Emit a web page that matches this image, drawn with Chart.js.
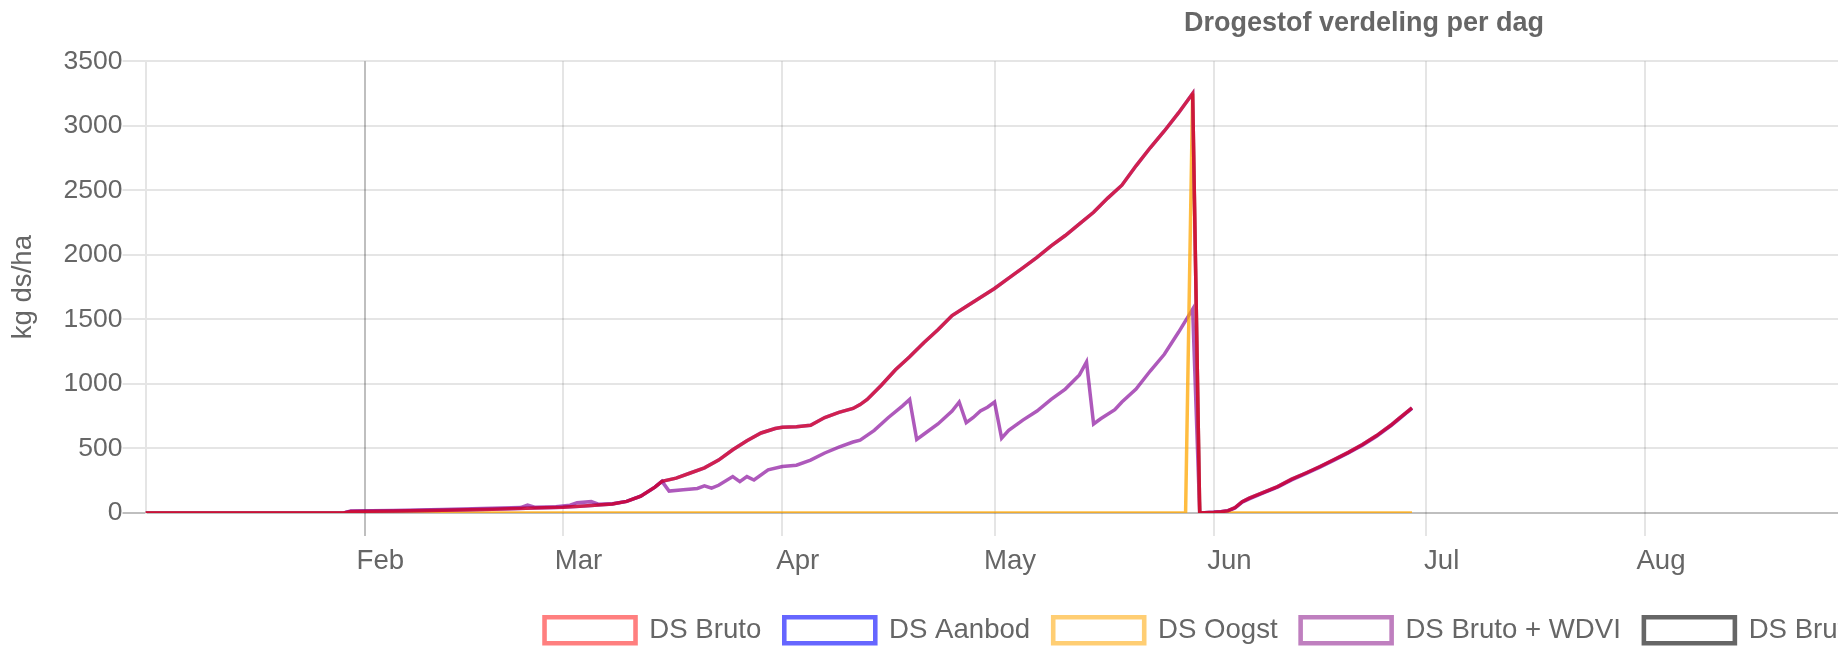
<!DOCTYPE html>
<html><head><meta charset="utf-8">
<script src="https://cdn.jsdelivr.net/npm/chart.js@4.4.1/dist/chart.umd.min.js"></script>
<style>
html,body{margin:0;padding:0;overflow:hidden;background:#fff;width:1838px;height:647px}
#wrap{position:absolute;left:0;top:0;width:2728px;height:654px}
</style></head><body><div id="wrap"><canvas id="c"></canvas></div>
<script>
// x = day of year (0 = 1 Jan), y = kg ds/ha
const monthNames = ['Feb','Mar','Apr','May','Jun','Jul','Aug','Sep','Oct','Nov','Dec'];
const monthStartDays = [31,59,90,120,151,181,212,243,273,304,334];
const seriesLabels = ['DS Bruto','DS Aanbod','DS Oogst','DS Bruto + WDVI','DS Bruto + WDVI gemiddelde jaren'];

const bruto = [[0,0],[28,0],[29,12],[35,16],[42,22],[49,30],[55,38],[59,45],[62,55],[64,62],[66,70],[68,90],[70,130],[72,200],[73,245],[75,270],[77,310],[79,350],[81,410],[83,490],[85,560],[87,620],[89,655],[90,665],[92,668],[94,680],[96,740],[98,780],[100,810],[101,840],[102,880],[104,990],[106,1110],[108,1210],[110,1320],[112,1420],[114,1530],[116,1600],[118,1670],[120,1740],[122,1820],[124,1900],[126,1980],[128,2070],[130,2150],[132,2240],[134,2330],[136,2440],[138,2540],[140,2690],[142,2830],[144,2960],[146,3100],[148,3250],[149,0],[151,5],[152,10],[153,18],[154,42],[155,88],[156,115],[158,160],[160,205],[162,262],[164,310],[166,360],[168,415],[170,470],[172,530],[174,600],[175,640],[176,680],[177,725],[178,770],[179,815]];
const aanbod = [[0,0],[28,0],[29,12],[35,16],[42,22],[49,30],[55,38],[59,45],[62,55],[64,62],[66,70],[68,90],[70,130],[72,200],[73,245],[75,270],[77,310],[79,350],[81,410],[83,490],[85,560],[87,620],[89,655],[90,665],[92,668],[94,680],[96,740],[98,780],[100,810],[101,840],[102,880],[104,990],[106,1110],[108,1210],[110,1320],[112,1420],[114,1530],[116,1600],[118,1670],[120,1740],[122,1820],[124,1900],[126,1980],[128,2070],[130,2150],[132,2240],[134,2330],[136,2440],[138,2540],[140,2690],[142,2830],[144,2960],[146,3100],[148,3250],[149,0],[151,5],[152,10],[153,18],[154,42],[155,88],[156,115],[158,160],[160,205],[162,262],[164,310],[166,360],[168,415],[170,470],[172,530],[174,600],[175,640],[176,680],[177,725],[178,770],[179,815]];
const oogst = [[0,0],[147,0],[148,3250],[149,0],[179,0]];
const brutoWdvi = [[0,0],[28,0],[29,15],[35,20],[42,28],[49,36],[53,42],[54,62],[55,45],[58,48],[60,60],[61,80],[63,88],[64,68],[66,72],[68,90],[70,130],[72,200],[73,245],[74,170],[76,180],[78,190],[79,210],[80,192],[81,215],[83,282],[84,243],[85,282],[86,256],[88,334],[90,360],[92,370],[94,410],[96,465],[98,510],[100,550],[101,565],[103,640],[105,740],[107,830],[108,880],[109,570],[110,610],[112,690],[114,790],[115,860],[116,700],[117,740],[118,790],[119,820],[120,860],[121,580],[122,640],[124,720],[126,790],[128,880],[130,960],[132,1070],[133,1170],[134,690],[135,730],[137,800],[138,860],[140,960],[142,1100],[144,1230],[146,1400],[148,1580],[149,0],[151,5],[152,10],[153,16],[154,38],[155,84],[156,110],[158,155],[160,200],[162,257],[164,305],[166,355],[168,410],[170,465],[172,525],[174,595],[175,635],[176,675],[177,720],[178,765],[179,810]];
const brutoWdviGem = [];

const FONT = "'Liberation Sans', Arial, sans-serif";
const toXY = arr => arr.map(p => ({x: p[0], y: p[1]}));
const lineColors = ['rgba(235,0,20,0.75)','rgba(0,0,255,0.5)','rgba(255,165,0,0.75)','rgba(130,0,150,0.65)','rgba(0,0,0,0.55)'];
const boxColors = ['rgba(255,0,0,0.5)','rgba(0,0,255,0.6)','rgba(255,165,0,0.55)','rgba(128,0,128,0.5)','rgba(0,0,0,0.6)'];
const seriesData = [bruto, aanbod, oogst, brutoWdvi, brutoWdviGem];

Chart.defaults.font.family = FONT;
Chart.defaults.color = '#666';

new Chart(document.getElementById('c'), {
  type: 'line',
  data: {
    datasets: seriesData.map((d, i) => ({
      label: seriesLabels[i],
      data: toXY(d),
      borderColor: lineColors[i],
      backgroundColor: 'rgba(255,255,255,0)',
      borderWidth: 3.5,
      pointRadius: 0,
      tension: 0,
      fill: false
    }))
  },
  options: {
    responsive: true,
    maintainAspectRatio: false,
    animation: false,
    devicePixelRatio: 1,
    layout: {padding: 0},
    plugins: {
      title: {display: true, text: 'Drogestof verdeling per dag', color: '#666',
        font: {size: 27, weight: 'bold', family: FONT}, padding: {top: 7, bottom: 21.9}},
      legend: {position: 'bottom',
        labels: {boxWidth: 91, boxHeight: 26, padding: 23, color: '#666', font: {size: 27.6, family: FONT},
          generateLabels: chart => chart.data.datasets.map((ds, i) => ({
            text: ds.label, fillStyle: 'rgba(255,255,255,0)', strokeStyle: boxColors[i],
            lineWidth: 4.6, hidden: false, datasetIndex: i, fontColor: '#666'
          }))}},
      tooltip: {enabled: false}
    },
    scales: {
      x: {
        type: 'linear', min: 0, max: 365,
        afterBuildTicks: s => { s.ticks = monthStartDays.map(v => ({value: v})); },
        afterFit: s => { s.height = 80.4; },
        ticks: {autoSkip: false, maxRotation: 0, padding: 9, labelOffset: 15.5, color: '#666',
          font: {size: 27.6, family: FONT},
          callback: (v, i) => monthNames[i]},
        grid: {lineWidth: 2, tickLength: 23,
          color: c => (c.index === 0 ? 'rgba(0,0,0,0.25)' : 'rgba(0,0,0,0.1)')},
        border: {display: false}
      },
      y: {
        min: 0, max: 3500,
        afterFit: s => { s.width = 145.5; },
        ticks: {stepSize: 500, padding: 0, color: '#666', font: {size: 26.5, family: FONT},
          callback: v => String(v)},
        grid: {lineWidth: 2, tickLength: 23,
          color: c => (c.tick && c.tick.value === 0 ? 'rgba(0,0,0,0.25)' : 'rgba(0,0,0,0.1)')},
        border: {display: true, color: 'rgba(0,0,0,0.1)', width: 2},
        title: {display: true, text: 'kg ds/ha', color: '#666', font: {size: 27.6, family: FONT},
          padding: {top: 6.5, bottom: 0}}
      }
    }
  }
});
</script></body></html>
